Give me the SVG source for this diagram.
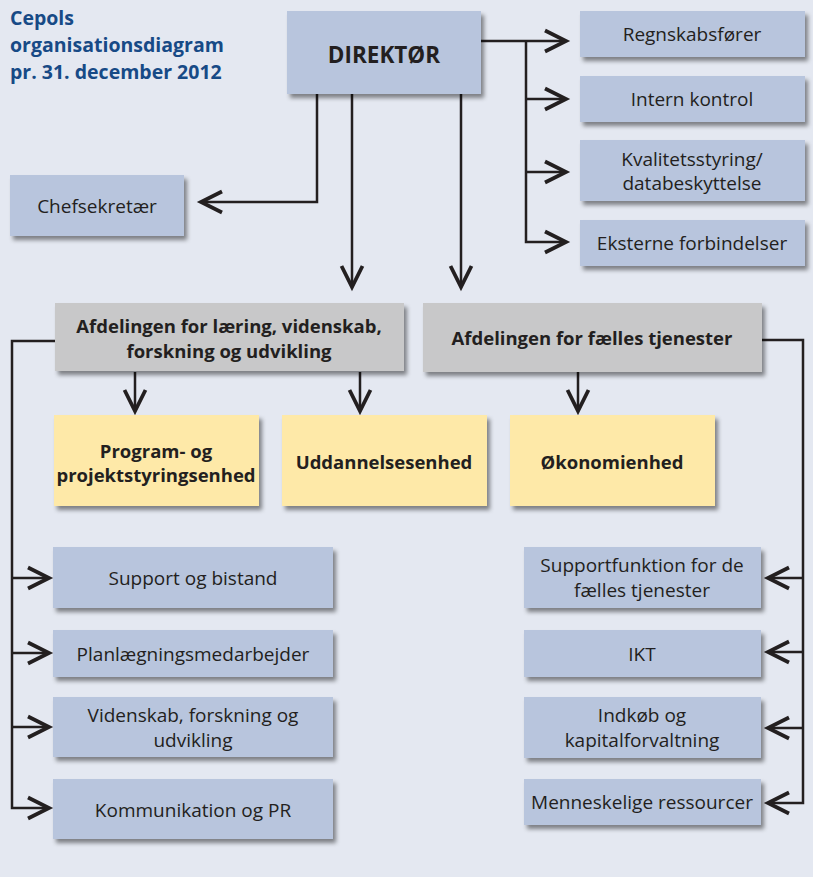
<svg xmlns="http://www.w3.org/2000/svg" width="813" height="877" viewBox="0 0 813 877">
<style>
.bg{fill:#e4e8f1}
.b{fill:#b8c5dd;filter:url(#sh)}
.g{fill:#c8c8c9;filter:url(#sh)}
.y{fill:#fee9a8;filter:url(#sh)}
text{font-family:"Open Sans","Liberation Sans",sans-serif;fill:#231f20;text-anchor:middle}
.t{font-size:19px}
.tb{font-size:18.5px;font-weight:bold}
.title{font-size:19.5px;font-weight:bold;fill:#174a86;text-anchor:start}
.c path{fill:none;stroke:#231f20;stroke-width:2.5}
</style>
<defs>
<filter id="sh" x="-10%" y="-10%" width="130%" height="140%">
<feDropShadow dx="3" dy="4" stdDeviation="2.2" flood-color="#000" flood-opacity="0.45"/>
</filter>
<marker id="ah" markerUnits="userSpaceOnUse" markerWidth="30" markerHeight="30" refX="0" refY="0" viewBox="-16 -10 20 20" orient="auto" overflow="visible">
<path d="M-14,-7 L0,0 L-14,7" fill="none" stroke="#231f20" stroke-width="2.5"/>
</marker>
</defs>
<rect class="bg" x="0" y="0" width="813" height="877"/>
<g id="title">
<text class="title" x="10" y="25">Cepols</text>
<text class="title" x="10" y="52">organisationsdiagram</text>
<text class="title" x="10" y="79">pr. 31. december 2012</text>
</g>
<g class="c" id="connectors">
<path d="M481,41 H566" marker-end="url(#ah)"/>
<path d="M526,41 V242 H566" marker-end="url(#ah)"/>
<path d="M526,99 H566" marker-end="url(#ah)"/>
<path d="M526,172 H566" marker-end="url(#ah)"/>
<path d="M317,94 V202 H201" marker-end="url(#ah)"/>
<path d="M352,94 V287" marker-end="url(#ah)"/>
<path d="M461,94 V287" marker-end="url(#ah)"/>
<path d="M55,341 H12 V808 H49" marker-end="url(#ah)"/>
<path d="M12,578 H49" marker-end="url(#ah)"/>
<path d="M12,653 H49" marker-end="url(#ah)"/>
<path d="M12,727 H49" marker-end="url(#ah)"/>
<path d="M135,372 V411" marker-end="url(#ah)"/>
<path d="M360,372 V411" marker-end="url(#ah)"/>
<path d="M578,372 V411" marker-end="url(#ah)"/>
<path d="M762,340 H803 V803 H768" marker-end="url(#ah)"/>
<path d="M803,578 H768" marker-end="url(#ah)"/>
<path d="M803,652 H768" marker-end="url(#ah)"/>
<path d="M803,728 H768" marker-end="url(#ah)"/>
</g>
<g id="direktor"><rect class="b" x="287" y="11" width="194" height="83"/><text class="tb" x="384" y="63" style="font-size:22.5px">DIREKTØR</text></g>
<g id="regnskab"><rect class="b" x="580" y="11" width="225" height="46"/><text class="t" x="692" y="41">Regnskabsfører</text></g>
<g id="intern"><rect class="b" x="580" y="76" width="225" height="46"/><text class="t" x="692" y="106">Intern kontrol</text></g>
<g id="kvalitet"><rect class="b" x="580" y="140" width="225" height="61"/><text class="t" x="692" y="166">Kvalitetsstyring/</text><text class="t" x="692" y="190">databeskyttelse</text></g>
<g id="eksterne"><rect class="b" x="580" y="220" width="225" height="46"/><text class="t" x="692" y="250">Eksterne forbindelser</text></g>
<g id="chef"><rect class="b" x="10" y="175" width="174" height="61"/><text class="t" x="97" y="213">Chefsekretær</text></g>
<g id="afd1"><rect class="g" x="55" y="303" width="349" height="68"/><text class="tb" x="229" y="333">Afdelingen for læring, videnskab,</text><text class="tb" x="229" y="358">forskning og udvikling</text></g>
<g id="afd2"><rect class="g" x="423" y="303" width="339" height="69"/><text class="tb" x="592" y="345">Afdelingen for fælles tjenester</text></g>
<g id="program"><rect class="y" x="54" y="415" width="205" height="91"/><text class="tb" x="156" y="458">Program- og</text><text class="tb" x="156" y="482">projektstyringsenhed</text></g>
<g id="uddannelse"><rect class="y" x="282" y="415" width="205" height="91"/><text class="tb" x="384" y="469">Uddannelsesenhed</text></g>
<g id="okonomi"><rect class="y" x="510" y="415" width="205" height="91"/><text class="tb" x="612" y="469">Økonomienhed</text></g>
<g id="support"><rect class="b" x="53" y="547" width="280" height="61"/><text class="t" x="193" y="585">Support og bistand</text></g>
<g id="planl"><rect class="b" x="53" y="630" width="280" height="47"/><text class="t" x="193" y="661">Planlægningsmedarbejder</text></g>
<g id="videnskab"><rect class="b" x="53" y="697" width="280" height="60"/><text class="t" x="193" y="722">Videnskab, forskning og</text><text class="t" x="193" y="747">udvikling</text></g>
<g id="kommunikation"><rect class="b" x="53" y="779" width="280" height="60"/><text class="t" x="193" y="817">Kommunikation og PR</text></g>
<g id="supportf"><rect class="b" x="524" y="547" width="237" height="61"/><text class="t" x="642" y="572">Supportfunktion for de</text><text class="t" x="642" y="597">fælles tjenester</text></g>
<g id="ikt"><rect class="b" x="524" y="630" width="237" height="47"/><text class="t" x="642" y="661">IKT</text></g>
<g id="indkob"><rect class="b" x="524" y="697" width="237" height="61"/><text class="t" x="642" y="722">Indkøb og</text><text class="t" x="642" y="747">kapitalforvaltning</text></g>
<g id="menneske"><rect class="b" x="524" y="779" width="237" height="46"/><text class="t" x="642" y="809">Menneskelige ressourcer</text></g>
</svg>
